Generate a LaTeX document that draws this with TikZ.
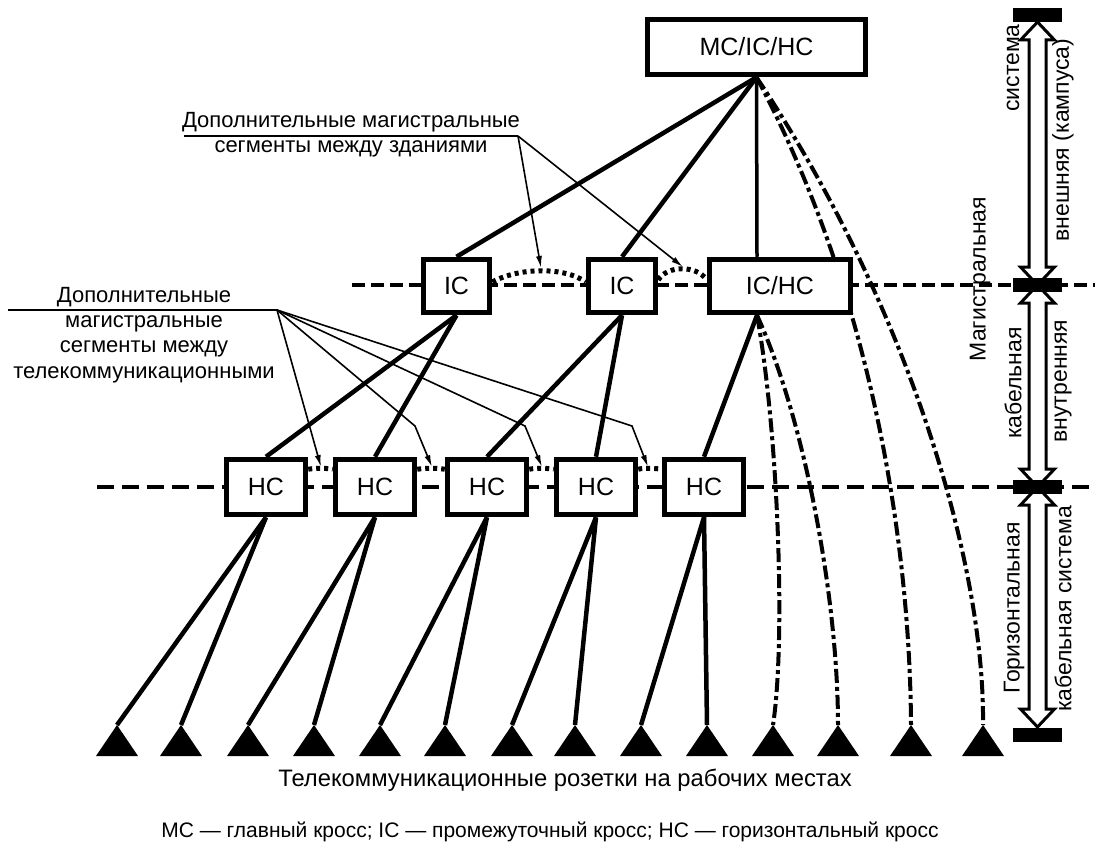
\documentclass[tikz,border=0pt]{standalone}
\usepackage{fontspec}
\setmainfont{Liberation Sans}
\usetikzlibrary{arrows.meta}
\begin{document}
\begin{tikzpicture}[x=1pt,y=-1pt,
  box/.style={draw,line width=5.5pt,fill=white,inner sep=0pt,font=\fontsize{25}{28}\selectfont},
  hcbox/.style={box,minimum width=79pt,minimum height=55pt},
  link/.style={line width=4.5pt},
  thinlink/.style={line width=3.5pt},
  hdash/.style={line width=4pt,dash pattern=on 13pt off 6pt},
  hdashb/.style={line width=4.5pt,dash pattern=on 17pt off 8pt},
  dotarc/.style={line width=5pt,dash pattern=on 4pt off 4pt},
  dashdot/.style={line width=4pt,dash pattern=on 14pt off 4pt on 4pt off 4pt},
  note/.style={line width=1.6pt},
  pointer/.style={line width=1.6pt,-{Latex[length=12pt,width=6pt]}},
  lbl/.style={font=\fontsize{22}{25.5}\selectfont,inner sep=0pt,align=center},
  vlbl/.style={font=\fontsize{23}{26}\selectfont,inner sep=0pt,rotate=90},
  bar/.style={fill=black,inner sep=0pt,minimum width=49pt,minimum height=14pt},
  dblarrow/.style={draw,line width=3pt,fill=white,line join=miter},
  outlet/.style={fill=black},
]
\useasboundingbox (0,0) rectangle (1095,843);

% horizontal level lines
\coordinate (icl) at (352,285); \coordinate (icr) at (1095,285);
\coordinate (hcl) at (97,487);  \coordinate (hcr) at (1095,487);
\draw[hdash] (icl) -- (icr);
\draw[hdashb] (hcl) -- (hcr);

% outlets
\foreach \i/\x in {1/117,2/181,3/248,4/314,5/380,6/445,7/512,8/575,9/641,10/707,11/773,12/838,13/911,14/983}{
  \coordinate (t\i) at (\x,725);
  \fill[outlet] (t\i) -- ++(-21,31) -- ++(42,0) -- cycle;
}

% nodes
\node[box,minimum width=218pt,minimum height=55pt] (mc) at (756.5,47) {MC/IC/HC};
\coordinate (mcap) at (mc.south);

% dash-dot cables (drawn before the boxes so IC/HC hides one)
\draw[dashdot] (mcap) .. controls (870,290) and (910,540) .. (t13);
\draw[dashdot] (mcap) .. controls (905,300) and (985,560) .. (t14);

\node[box,minimum width=66pt,minimum height=53pt] (ic1) at (456.5,286) {IC};
\node[box,minimum width=67pt,minimum height=53pt] (ic2) at (622,286) {IC};
\node[box,minimum width=141pt,minimum height=53pt] (ichc) at (780,286) {IC/HC};
\coordinate (ichcb) at ([xshift=-23pt]ichc.south);
\coordinate (ichct) at ([xshift=-23pt]ichc.north);

\draw[dashdot] (ichcb) .. controls (778,430) and (786,640) .. (t11);
\draw[dashdot] (ichcb) .. controls (805,420) and (838,600) .. (t12);

\node[hcbox] (hc1) at (266,487) {HC};
\node[hcbox] (hc2) at (375,487) {HC};
\node[hcbox] (hc3) at (487,487) {HC};
\node[hcbox] (hc4) at (596,487) {HC};
\node[hcbox] (hc5) at (704,487) {HC};

% backbone links
\draw[link] (mcap) -- (ic1.north);
\draw[link] (mcap) -- (ic2.north);
\draw[thinlink] (mcap) -- (ichct);
\draw[link] (ic1.south) -- (hc1.north);
\draw[link] (ic1.south) -- (hc2.north);
\draw[link] (ic2.south) -- (hc3.north);
\draw[link] (ic2.south) -- (hc4.north);
\draw[link] (ichcb) -- (hc5.north);

% horizontal links
\draw[link] (hc1.south) -- (t1);
\draw[link] (hc1.south) -- (t2);
\draw[link] (hc2.south) -- (t3);
\draw[link] (hc2.south) -- (t4);
\draw[link] (hc3.south) -- (t5);
\draw[link] (hc3.south) -- (t6);
\draw[link] (hc4.south) -- (t7);
\draw[link] (hc4.south) -- (t8);
\draw[link] (hc5.south) -- (t9);
\draw[link] (hc5.south) -- (t10);

% additional dotted segments
\draw[dotarc] ([yshift=4pt]ic1.east) .. controls (520,267) and (565,267) .. ([yshift=4pt]ic2.west);
\draw[dotarc] ([yshift=6pt]ic2.east) .. controls (667,265) and (697,265) .. ([yshift=6pt]ichc.west);
\draw[dotarc] ([yshift=-12.5pt]hc1.north east) .. controls (315,468) and (327,468) .. ([yshift=-12.5pt]hc2.north west);
\draw[dotarc] ([yshift=-12.5pt]hc2.north east) .. controls (425,468) and (437,468) .. ([yshift=-12.5pt]hc3.north west);
\draw[dotarc] ([yshift=-12.5pt]hc3.north east) .. controls (535,468) and (547,468) .. ([yshift=-12.5pt]hc4.north west);
\draw[dotarc] ([yshift=-12.5pt]hc4.north east) .. controls (642,468) and (654,468) .. ([yshift=-12.5pt]hc5.north west);

% annotation 1
\node[lbl] (a1) at (351,122) {Дополнительные магистральные};
\node[lbl] (a1b) at (351,149) {сегменты между зданиями};
\coordinate (n1a) at (184,136); \coordinate (n1) at (518,136);
\coordinate (p1) at (541,268); \coordinate (p2) at (683,267);
\draw[note] (n1a) -- (n1);
\draw[pointer] (n1) -- (p1);
\draw[pointer] (n1) -- (p2);

% annotation 2
\node[lbl] (a2) at (144,297) {Дополнительные};
\node[lbl] (a2b) at (144,349) {магистральные\\сегменты между\\телекоммуникационными};
\coordinate (n2a) at (8,310); \coordinate (n2) at (277,310);
\coordinate (k2) at (415,426); \coordinate (k3) at (525,426); \coordinate (k4) at (632,426);
\coordinate (q1) at (321,467); \coordinate (q2) at (432,467); \coordinate (q3) at (542,467); \coordinate (q4) at (648,467);
\draw[note] (n2a) -- (n2);
\draw[pointer] (n2) -- (q1);
\draw[pointer] (n2) -- (k2) -- (q2);
\draw[pointer] (n2) -- (k3) -- (q3);
\draw[pointer] (n2) -- (k4) -- (q4);

% right-hand scale
\draw[dblarrow] (1037.5,22) -- (1054.5,40) -- (1046,40) -- (1046,267) -- (1054.5,267) -- (1037.5,285) -- (1020.5,267) -- (1029,267) -- (1029,40) -- (1020.5,40) -- cycle;
\draw[dblarrow] (1037.5,285) -- (1054.5,303) -- (1046,303) -- (1046,469) -- (1054.5,469) -- (1037.5,487) -- (1020.5,469) -- (1029,469) -- (1029,303) -- (1020.5,303) -- cycle;
\draw[dblarrow] (1037.5,487) -- (1054.5,505) -- (1046,505) -- (1046,709) -- (1054.5,709) -- (1037.5,727) -- (1020.5,709) -- (1029,709) -- (1029,505) -- (1020.5,505) -- cycle;
\node[bar] (b0) at (1037.5,15) {};
\node[bar] (b1) at (1037.5,285) {};
\node[bar] (b2) at (1037.5,487) {};
\node[bar] (b3) at (1037.5,734.5) {};

\node[vlbl] (v1) at (980,279) {Магистральная};
\node[vlbl] (v2) at (1013,68) {система};
\node[vlbl] (v3) at (1013,383) {кабельная};
\node[vlbl] (v4) at (1014,608) {Горизонтальная};
\node[vlbl] (v5) at (1063,140) {внешняя (кампуса)};
\node[vlbl] (v6) at (1063,381) {внутренняя};
\node[vlbl] (v7) at (1063,609) {кабельная система};

% captions
\node[font=\fontsize{23.8}{27}\selectfont,inner sep=0pt] (cap1) at (565,780) {Телекоммуникационные розетки на рабочих местах};
\node[font=\fontsize{21}{24}\selectfont,inner sep=0pt] (cap2) at (550,832) {MC — главный кросс; IC — промежуточный кросс; HC — горизонтальный кросс};
\end{tikzpicture}
\end{document}
